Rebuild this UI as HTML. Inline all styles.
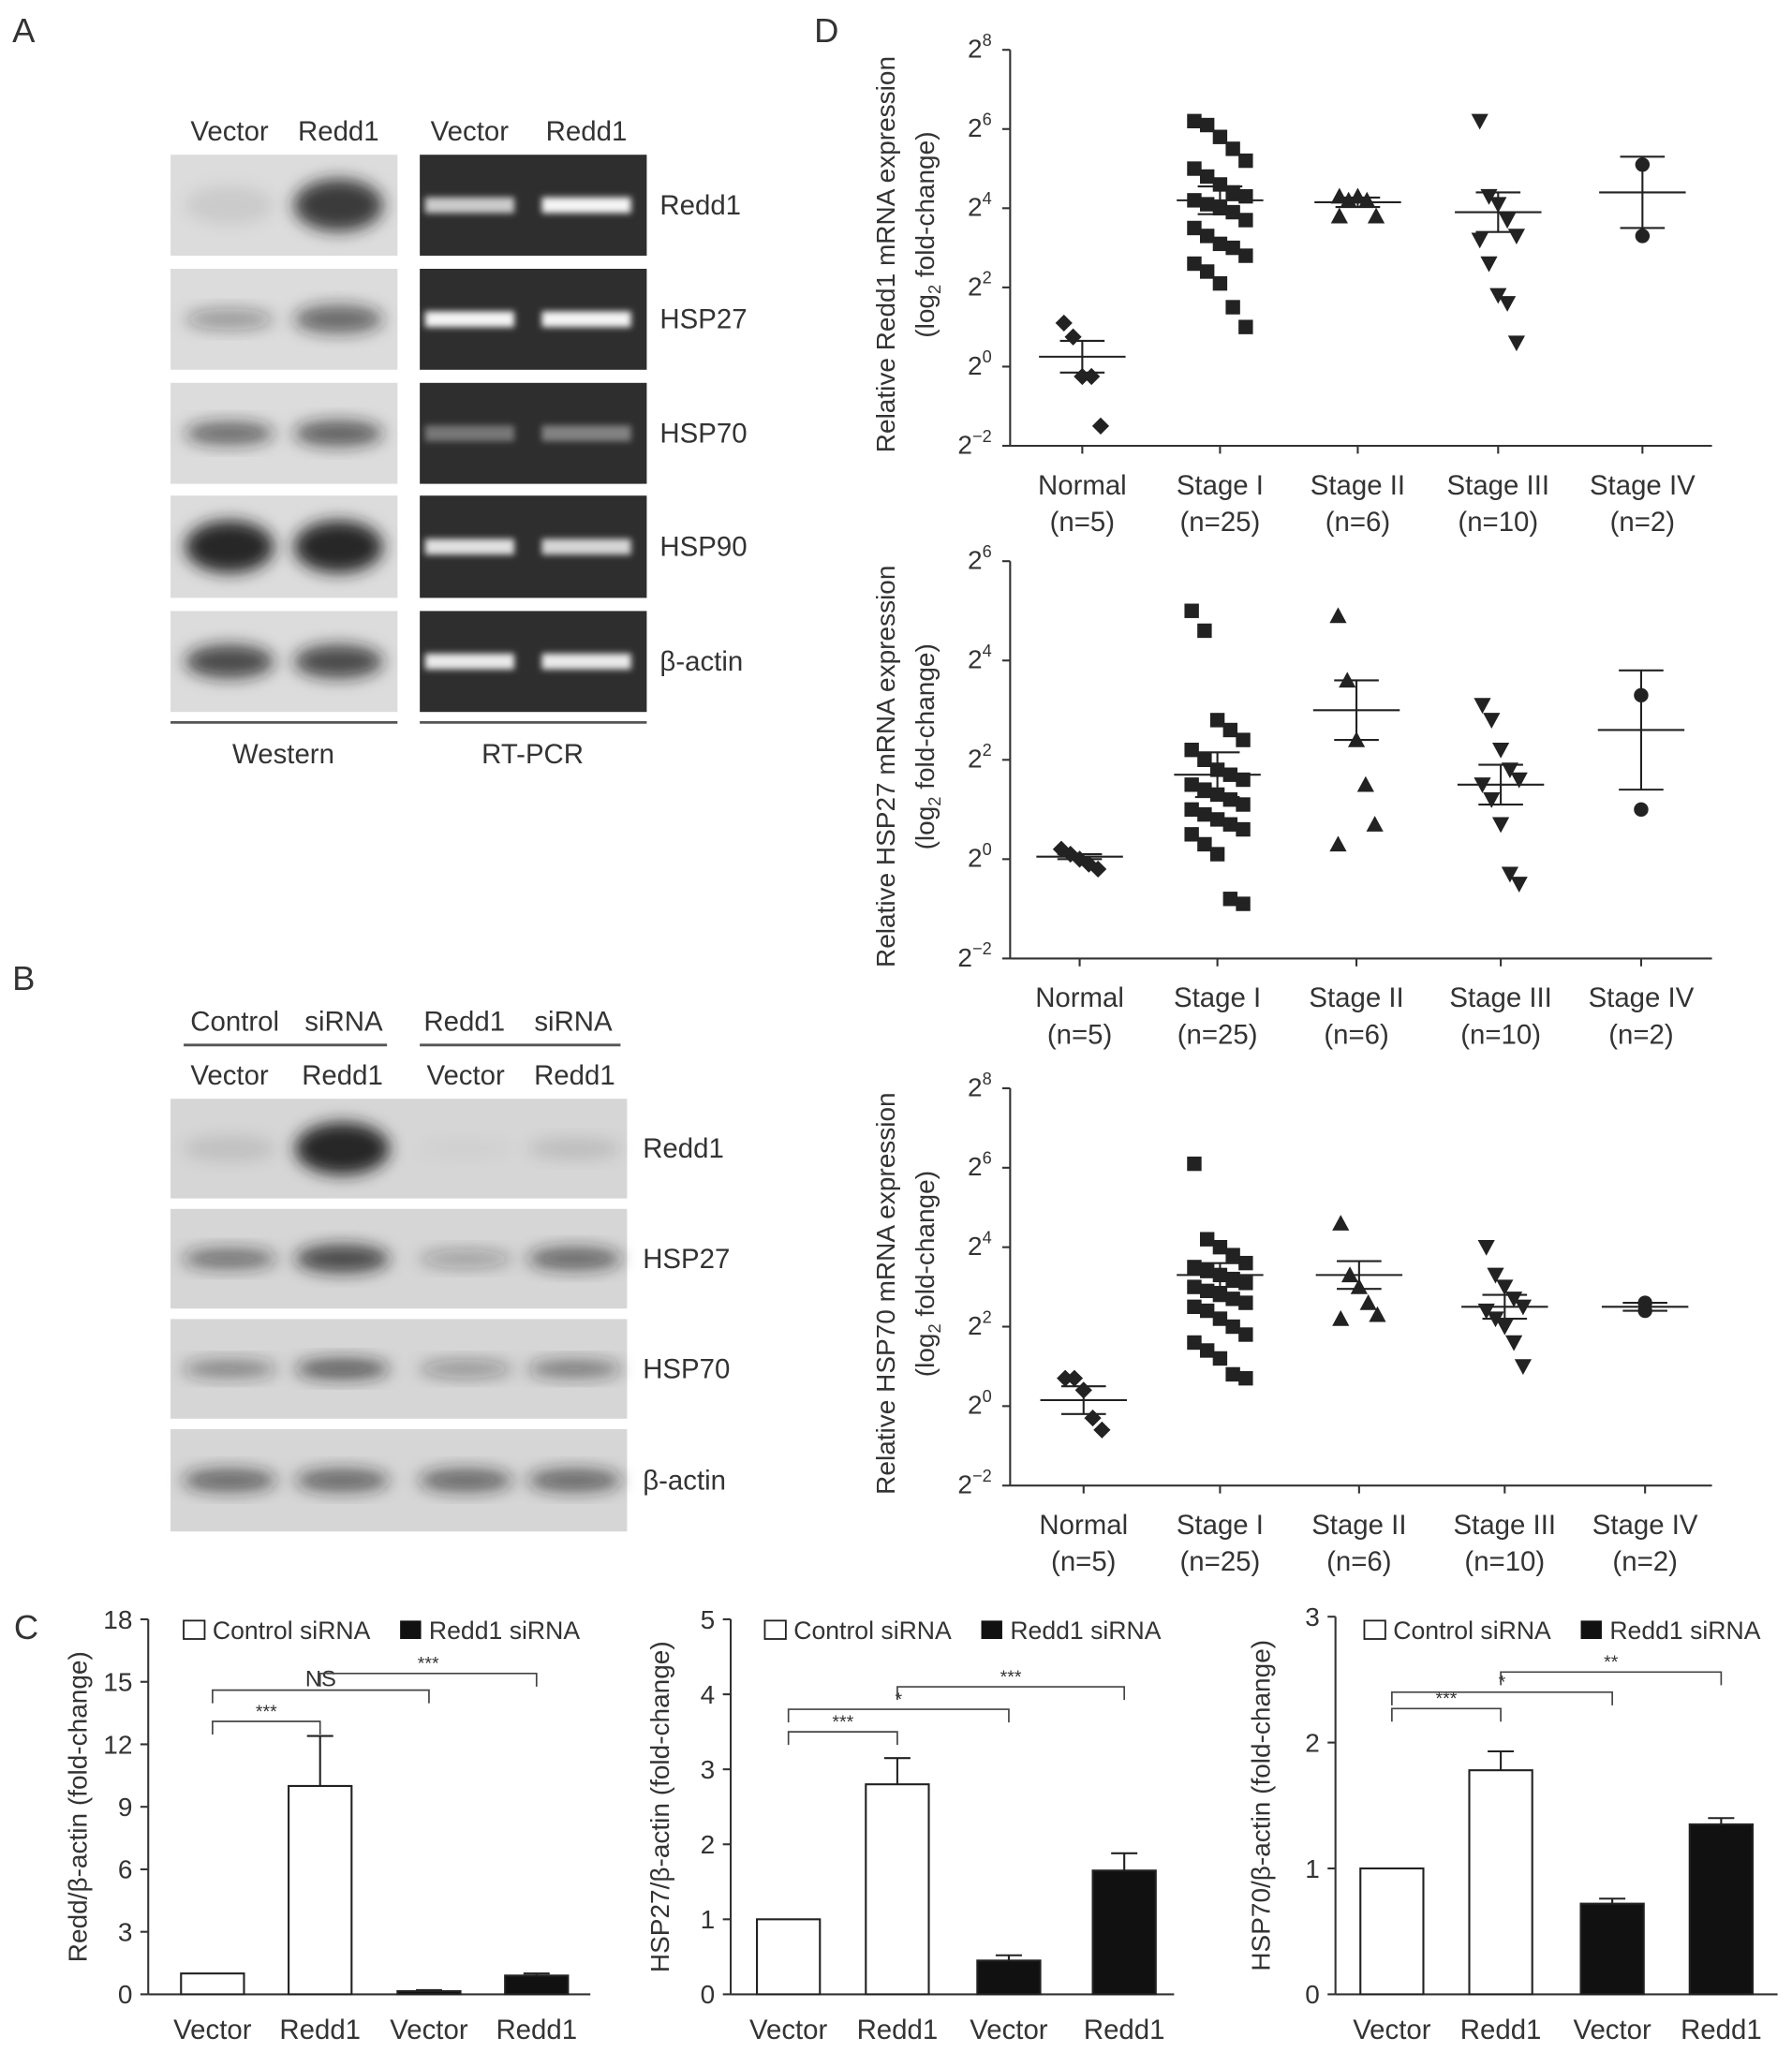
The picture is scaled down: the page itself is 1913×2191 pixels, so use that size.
<!DOCTYPE html>
<html><head><meta charset="utf-8"><style>
html,body{margin:0;padding:0;background:#fff}
svg{display:block;font-family:"Liberation Sans",sans-serif}
</style></head><body>
<svg id="fig" width="1913" height="2191" viewBox="0 0 1366 1565" preserveAspectRatio="none" xmlns="http://www.w3.org/2000/svg">
<defs>
<filter id="blur" x="-50%" y="-50%" width="200%" height="200%"><feGaussianBlur stdDeviation="6"/></filter>
<filter id="blur2" x="-50%" y="-50%" width="200%" height="200%"><feGaussianBlur stdDeviation="2.5"/></filter>
</defs>
<g id="root"></g>
</svg>
<script>
// ===== Panel C data =====
const barCats = ["Vector","Redd1","Vector","Redd1"];
const c1Vals = [1, 10, 0.15, 0.9];
const c1Errs = [0, 2.4, 0.05, 0.1];
const c2Vals = [1, 2.8, 0.45, 1.65];
const c2Errs = [0, 0.35, 0.07, 0.23];
const c3Vals = [1, 1.78, 0.72, 1.35];
const c3Errs = [0, 0.15, 0.04, 0.05];
const c1Ticks = [0,3,6,9,12,15,18];
const c2Ticks = [0,1,2,3,4,5];
const c3Ticks = [0,1,2,3];
// ===== Panel D data (log2 values) =====
const stageCats = ["Normal","Stage I","Stage II","Stage III","Stage IV"];
const stageNs = ["(n=5)","(n=25)","(n=6)","(n=10)","(n=2)"];
const d1Normal = [1.1,0.75,-0.25,-0.25,-1.5];
const d1S1 = [6.2,6.1,5.8,5.5,5.2,5.0,4.8,4.6,4.4,4.3,4.2,4.1,4.0,3.9,3.7,3.5,3.3,3.1,3.0,2.8,2.6,2.4,2.1,1.5,1.0];
const d1S2 = [4.3,4.2,4.3,4.2,3.8,3.8];
const d1S3 = [6.2,4.3,4.1,3.7,3.3,3.2,2.6,1.8,1.6,0.6];
const d1S4 = [5.1,3.3];
const d1Mean = [0.25,4.2,4.15,3.9,4.4];
const d1Err = [0.4,0.35,0.12,0.5,0.9];
const d2Normal = [0.2,0.1,0,-0.1,-0.2];
const d2S1 = [5.0,4.6,2.8,2.6,2.4,2.2,2.0,1.8,1.7,1.6,1.5,1.4,1.3,1.2,1.1,1.0,0.9,0.8,0.7,0.6,0.5,0.3,0.1,-0.8,-0.9];
const d2S2 = [4.9,3.6,2.4,1.5,0.7,0.3];
const d2S3 = [3.1,2.8,2.2,1.8,1.6,1.5,1.2,0.7,-0.3,-0.5];
const d2S4 = [3.3,1.0];
const d2Mean = [0.05,1.7,3.0,1.5,2.6];
const d2Err = [0.05,0.45,0.6,0.4,1.2];
const d3Normal = [0.7,0.7,0.4,-0.3,-0.6];
const d3S1 = [6.1,4.2,4.0,3.8,3.6,3.5,3.4,3.3,3.2,3.1,3.0,2.9,2.8,2.7,2.6,2.5,2.4,2.2,2.0,1.8,1.6,1.4,1.2,0.8,0.7];
const d3S2 = [4.6,3.3,3.0,2.6,2.3,2.2];
const d3S3 = [4.0,3.3,3.0,2.7,2.5,2.4,2.2,2.0,1.6,1.0];
const d3S4 = [2.6,2.4];
const d3Mean = [0.15,3.3,3.3,2.5,2.5];
const d3Err = [0.35,0.3,0.35,0.3,0.1];

const NS="http://www.w3.org/2000/svg";
const root=document.getElementById('root');
function el(tag,attrs,parent,text){const e=document.createElementNS(NS,tag);for(const k in attrs)e.setAttribute(k,attrs[k]);if(text!==undefined)e.textContent=text;(parent||root).appendChild(e);return e;}
function txt(x,y,s,size,parent,anchor){return el('text',{x:x,y:y,'font-size':size||20,'text-anchor':anchor||'middle',fill:'#333'},parent,s);}

let t;
t=txt(18,32,"A",26,root,'middle');


t=txt(18,755,"B",26,root,'middle');


t=txt(20,1250,"C",26,root,'middle');


t=txt(630,32,"D",26,root,'middle');



// ===== Panel A =====
const gA=el('g',{});


const rowsA=[[118,195],[205,282],[292,369],[378,456],[466,543]];
const rowNamesA=["Redd1","HSP27","HSP70","HSP90","β-actin"];
const wbInt=[[0.08,0.85],[0.35,0.6],[0.6,0.65],[0.95,0.95],[0.75,0.75]];
const wbH=[[30,40],[16,22],[18,20],[40,40],[26,26]];
const pcrInt=[[0.75,0.95],[0.95,0.95],[0.35,0.4],[0.85,0.8],[0.9,0.9]];
const lanesW=[175,258], lanesR=[358,447];
rowsA.forEach((r,i)=>{
  const h=r[1]-r[0], cy=(r[0]+r[1])/2;
  const w=el('rect',{x:130,y:r[0],width:173,height:h,fill:'#dcdcdc'},gA);
  
  
  lanesW.forEach((lx,j)=>{
    const v=wbInt[i][j];
    el('ellipse',{cx:lx,cy:cy,rx:34,ry:wbH[i][j]/2,fill:`rgba(30,30,30,${v})`,filter:'url(#blur)'},gA);
  });
  const p=el('rect',{x:320,y:r[0],width:173,height:h,fill:'#2e2e2e'},gA);
  
  
  lanesR.forEach((lx,j)=>{
    el('rect',{x:lx-34,y:cy-6,width:68,height:12,fill:`rgba(255,255,255,${pcrInt[i][j]})`,filter:'url(#blur2)'},gA);
  });
  txt(503,cy+7,rowNamesA[i],21,gA,'start');
});
txt(175,107,"Vector",21,gA);txt(258,107,"Redd1",21,gA);
txt(358,107,"Vector",21,gA);txt(447,107,"Redd1",21,gA);
el('line',{x1:130,y1:551,x2:303,y2:551,stroke:'#555','stroke-width':2},gA);
el('line',{x1:320,y1:551,x2:493,y2:551,stroke:'#555','stroke-width':2},gA);
txt(216,582,"Western",21,gA);txt(406,582,"RT-PCR",21,gA);

// ===== Panel B =====
const gB=el('g',{});


const rowsB=[[838,914],[922,998],[1006,1082],[1090,1168]];
const rowNamesB=["Redd1","HSP27","HSP70","β-actin"];
const lanesB=[175,261,355,438];
const bInt=[[0.1,0.95,0.03,0.12],[0.55,0.75,0.3,0.6],[0.45,0.65,0.35,0.5],[0.6,0.6,0.6,0.6]];
const bH=[[20,40,14,16],[16,22,14,18],[14,16,14,14],[18,18,18,18]];
rowsB.forEach((r,i)=>{
  const cy=(r[0]+r[1])/2;
  const w=el('rect',{x:130,y:r[0],width:348,height:r[1]-r[0],fill:'#d6d6d6'},gB);
  
  
  lanesB.forEach((lx,j)=>{
    el('ellipse',{cx:lx,cy:cy,rx:36,ry:bH[i][j]/2,fill:`rgba(30,30,30,${bInt[i][j]})`,filter:'url(#blur)'},gB);
  });
  txt(490,cy+7,rowNamesB[i],21,gB,'start');
});
txt(179,786,"Control",21,gB);txt(262,786,"siRNA",21,gB);
txt(354,786,"Redd1",21,gB);txt(437,786,"siRNA",21,gB);
el('line',{x1:140,y1:797,x2:295,y2:797,stroke:'#555','stroke-width':2},gB);
el('line',{x1:320,y1:797,x2:473,y2:797,stroke:'#555','stroke-width':2},gB);
lanesB.forEach((lx,j)=>txt(lx,827,["Vector","Redd1","Vector","Redd1"][j],21,gB));

// ===== Panel C bar charts =====
function barChart(name,ax,xEnd,top,bot,maxV,ticks,vals,errs,xs,legX,blackLegX,brackets,title,titleX){
  const g=el('g',{});
  
  
  const y=v=>bot-(v/maxV)*(bot-top);
  el('line',{x1:ax,y1:top,x2:ax,y2:bot,stroke:'#333','stroke-width':1.5},g);
  el('line',{x1:ax,y1:bot,x2:xEnd,y2:bot,stroke:'#333','stroke-width':1.5},g);
  ticks.forEach(tv=>{
    el('line',{x1:ax-6,y1:y(tv),x2:ax,y2:y(tv),stroke:'#333','stroke-width':1.5},g);
    const tl=txt(ax-12,y(tv)+7,String(tv),20,g,'end');
    
    
  });
  vals.forEach((v,i)=>{
    const cx=xs[i];
    const b=el('rect',{x:cx-24,y:y(v),width:48,height:bot-y(v),fill:i<2?'#fff':'#111',stroke:'#222','stroke-width':1.5},g);
    
    
    if(errs[i]>0){
      el('line',{x1:cx,y1:y(v),x2:cx,y2:y(v+errs[i]),stroke:'#222','stroke-width':1.5},g);
      el('line',{x1:cx-10,y1:y(v+errs[i]),x2:cx+10,y2:y(v+errs[i]),stroke:'#222','stroke-width':1.5},g);
    }
    const cl=txt(cx,1555,barCats[i],21,g);
    
    
  });
  brackets.forEach(bk=>{
    const [i1,i2,lev,lab]=bk;const by=y(lev);
    el('path',{d:`M${xs[i1]},${by+10}V${by}H${xs[i2]}V${by+10}`,fill:'none',stroke:'#444','stroke-width':1.2},g);
    txt((xs[i1]+xs[i2])/2,by-3,lab,lab==='NS'?17:14,g);
  });
  const lb=el('rect',{x:legX,y:1236,width:16,height:14,fill:'#fff',stroke:'#222','stroke-width':1.3},g);
  
  
  txt(legX+22,1250,"Control siRNA",19,g,'start');
  const lk=el('rect',{x:blackLegX,y:1236,width:16,height:14,fill:'#111'},g);
  
  
  txt(blackLegX+22,1250,"Redd1 siRNA",19,g,'start');
  const tt=el('text',{x:0,y:0,'font-size':20,'text-anchor':'middle',fill:'#333',transform:`translate(${titleX},${(top+bot)/2}) rotate(-90)`},g,title);
  
  
}
barChart('bar-chart-redd1',113,450,1235,1521,18,c1Ticks,c1Vals,c1Errs,[162,244,327,409],140,305,
  [[0,1,13.1,'***'],[0,2,14.6,'NS'],[1,3,15.4,'***']],"Redd/β-actin (fold-change)",66);
barChart('bar-chart-hsp27',557,895,1235,1521,5,c2Ticks,c2Vals,c2Errs,[601,684,769,857],583,748,
  [[0,1,3.5,'***'],[0,2,3.8,'*'],[1,3,4.1,'***']],"HSP27/β-actin (fold-change)",510);
barChart('bar-chart-hsp70',1018,1355,1233,1521,3,c3Ticks,c3Vals,c3Errs,[1061,1144,1229,1312],1040,1205,
  [[0,1,2.27,'***'],[0,2,2.4,'*'],[1,3,2.56,'**']],"HSP70/β-actin (fold-change)",968);

// ===== Panel D scatter plots =====
function marker(g,shape,x,y){
  const s=5.5;let m;
  if(shape===0) m=el('polygon',{points:`${x},${y-s-1} ${x+s+1},${y} ${x},${y+s+1} ${x-s-1},${y}`,fill:'#222'},g);
  else if(shape===1) m=el('rect',{x:x-s,y:y-s,width:2*s,height:2*s,fill:'#222'},g);
  else if(shape===2) m=el('polygon',{points:`${x},${y-s-1} ${x+s+1},${y+s} ${x-s-1},${y+s}`,fill:'#222'},g);
  else if(shape===3) m=el('polygon',{points:`${x},${y+s+1} ${x+s+1},${y-s} ${x-s-1},${y-s}`,fill:'#222'},g);
  else m=el('circle',{cx:x,cy:y,r:s,fill:'#222'},g);
  
  
}
function scatter(name,ax,top,bot,maxE,groups,means,errs,xs,title1,gene){
  const g=el('g',{});
  
  
  const minE=-2;
  const y=v=>bot-(v-minE)/(maxE-minE)*(bot-top);
  el('line',{x1:ax,y1:top,x2:ax,y2:bot,stroke:'#333','stroke-width':1.5},g);
  el('line',{x1:ax,y1:bot,x2:1305,y2:bot,stroke:'#333','stroke-width':1.5},g);
  for(let e=minE;e<=maxE;e+=2){
    el('line',{x1:ax-6,y1:y(e),x2:ax,y2:y(e),stroke:'#333','stroke-width':1.5},g);
    const tl=el('text',{x:ax-14,y:y(e)+6,'font-size':20,'text-anchor':'end',fill:'#333'},g);
    
    
    el('tspan',{},tl,'2');
    el('tspan',{'font-size':13,dy:-9},tl,e<0?'−'+(-e):String(e));
  }
  xs.forEach((cx,i)=>{
    el('line',{x1:cx,y1:bot,x2:cx,y2:bot+6,stroke:'#333','stroke-width':1.5},g);
    const c1=txt(cx,bot+37,stageCats[i],21,g);
    
    
    txt(cx,bot+65,stageNs[i],21,g);
    const pts=groups[i];
    pts.forEach((v,j)=>{
      const n=pts.length;
      const off=n<=2?0:((j%5)-2)*7*(n>10?1.4:1);
      marker(g,i,cx+off,y(v));
    });
    const m=el('line',{x1:cx-33,y1:y(means[i]),x2:cx+33,y2:y(means[i]),stroke:'#222','stroke-width':1.5},g);
    
    
    const e1=y(means[i]+errs[i]),e2=y(means[i]-errs[i]);
    el('line',{x1:cx,y1:e1,x2:cx,y2:e2,stroke:'#222','stroke-width':1.5},g);
    el('line',{x1:cx-17,y1:e1,x2:cx+17,y2:e1,stroke:'#222','stroke-width':1.5},g);
    el('line',{x1:cx-17,y1:e2,x2:cx+17,y2:e2,stroke:'#222','stroke-width':1.5},g);
  });
  const cy=(top+bot)/2;
  const t1=el('text',{x:0,y:0,'font-size':20,'text-anchor':'middle',fill:'#333',transform:`translate(682,${cy+5}) rotate(-90)`},g,`Relative ${gene} mRNA expression`);
  
  
  const t2=el('text',{x:0,y:0,'font-size':20,'text-anchor':'middle',fill:'#333',transform:`translate(712,${cy-10}) rotate(-90)`},g);
  el('tspan',{},t2,'(log');
  el('tspan',{'font-size':13,dy:5},t2,'2');
  el('tspan',{dy:-5},t2,' fold-change)');
}
scatter('scatter-redd1',770,38,340,8,[d1Normal,d1S1,d1S2,d1S3,d1S4],d1Mean,d1Err,[825,930,1035,1142,1252],'','Redd1');
scatter('scatter-hsp27',770,428,731,6,[d2Normal,d2S1,d2S2,d2S3,d2S4],d2Mean,d2Err,[823,928,1034,1144,1251],'','HSP27');
scatter('scatter-hsp70',770,830,1133,8,[d3Normal,d3S1,d3S2,d3S3,d3S4],d3Mean,d3Err,[826,930,1036,1147,1254],'','HSP70');
</script>
</body></html>
